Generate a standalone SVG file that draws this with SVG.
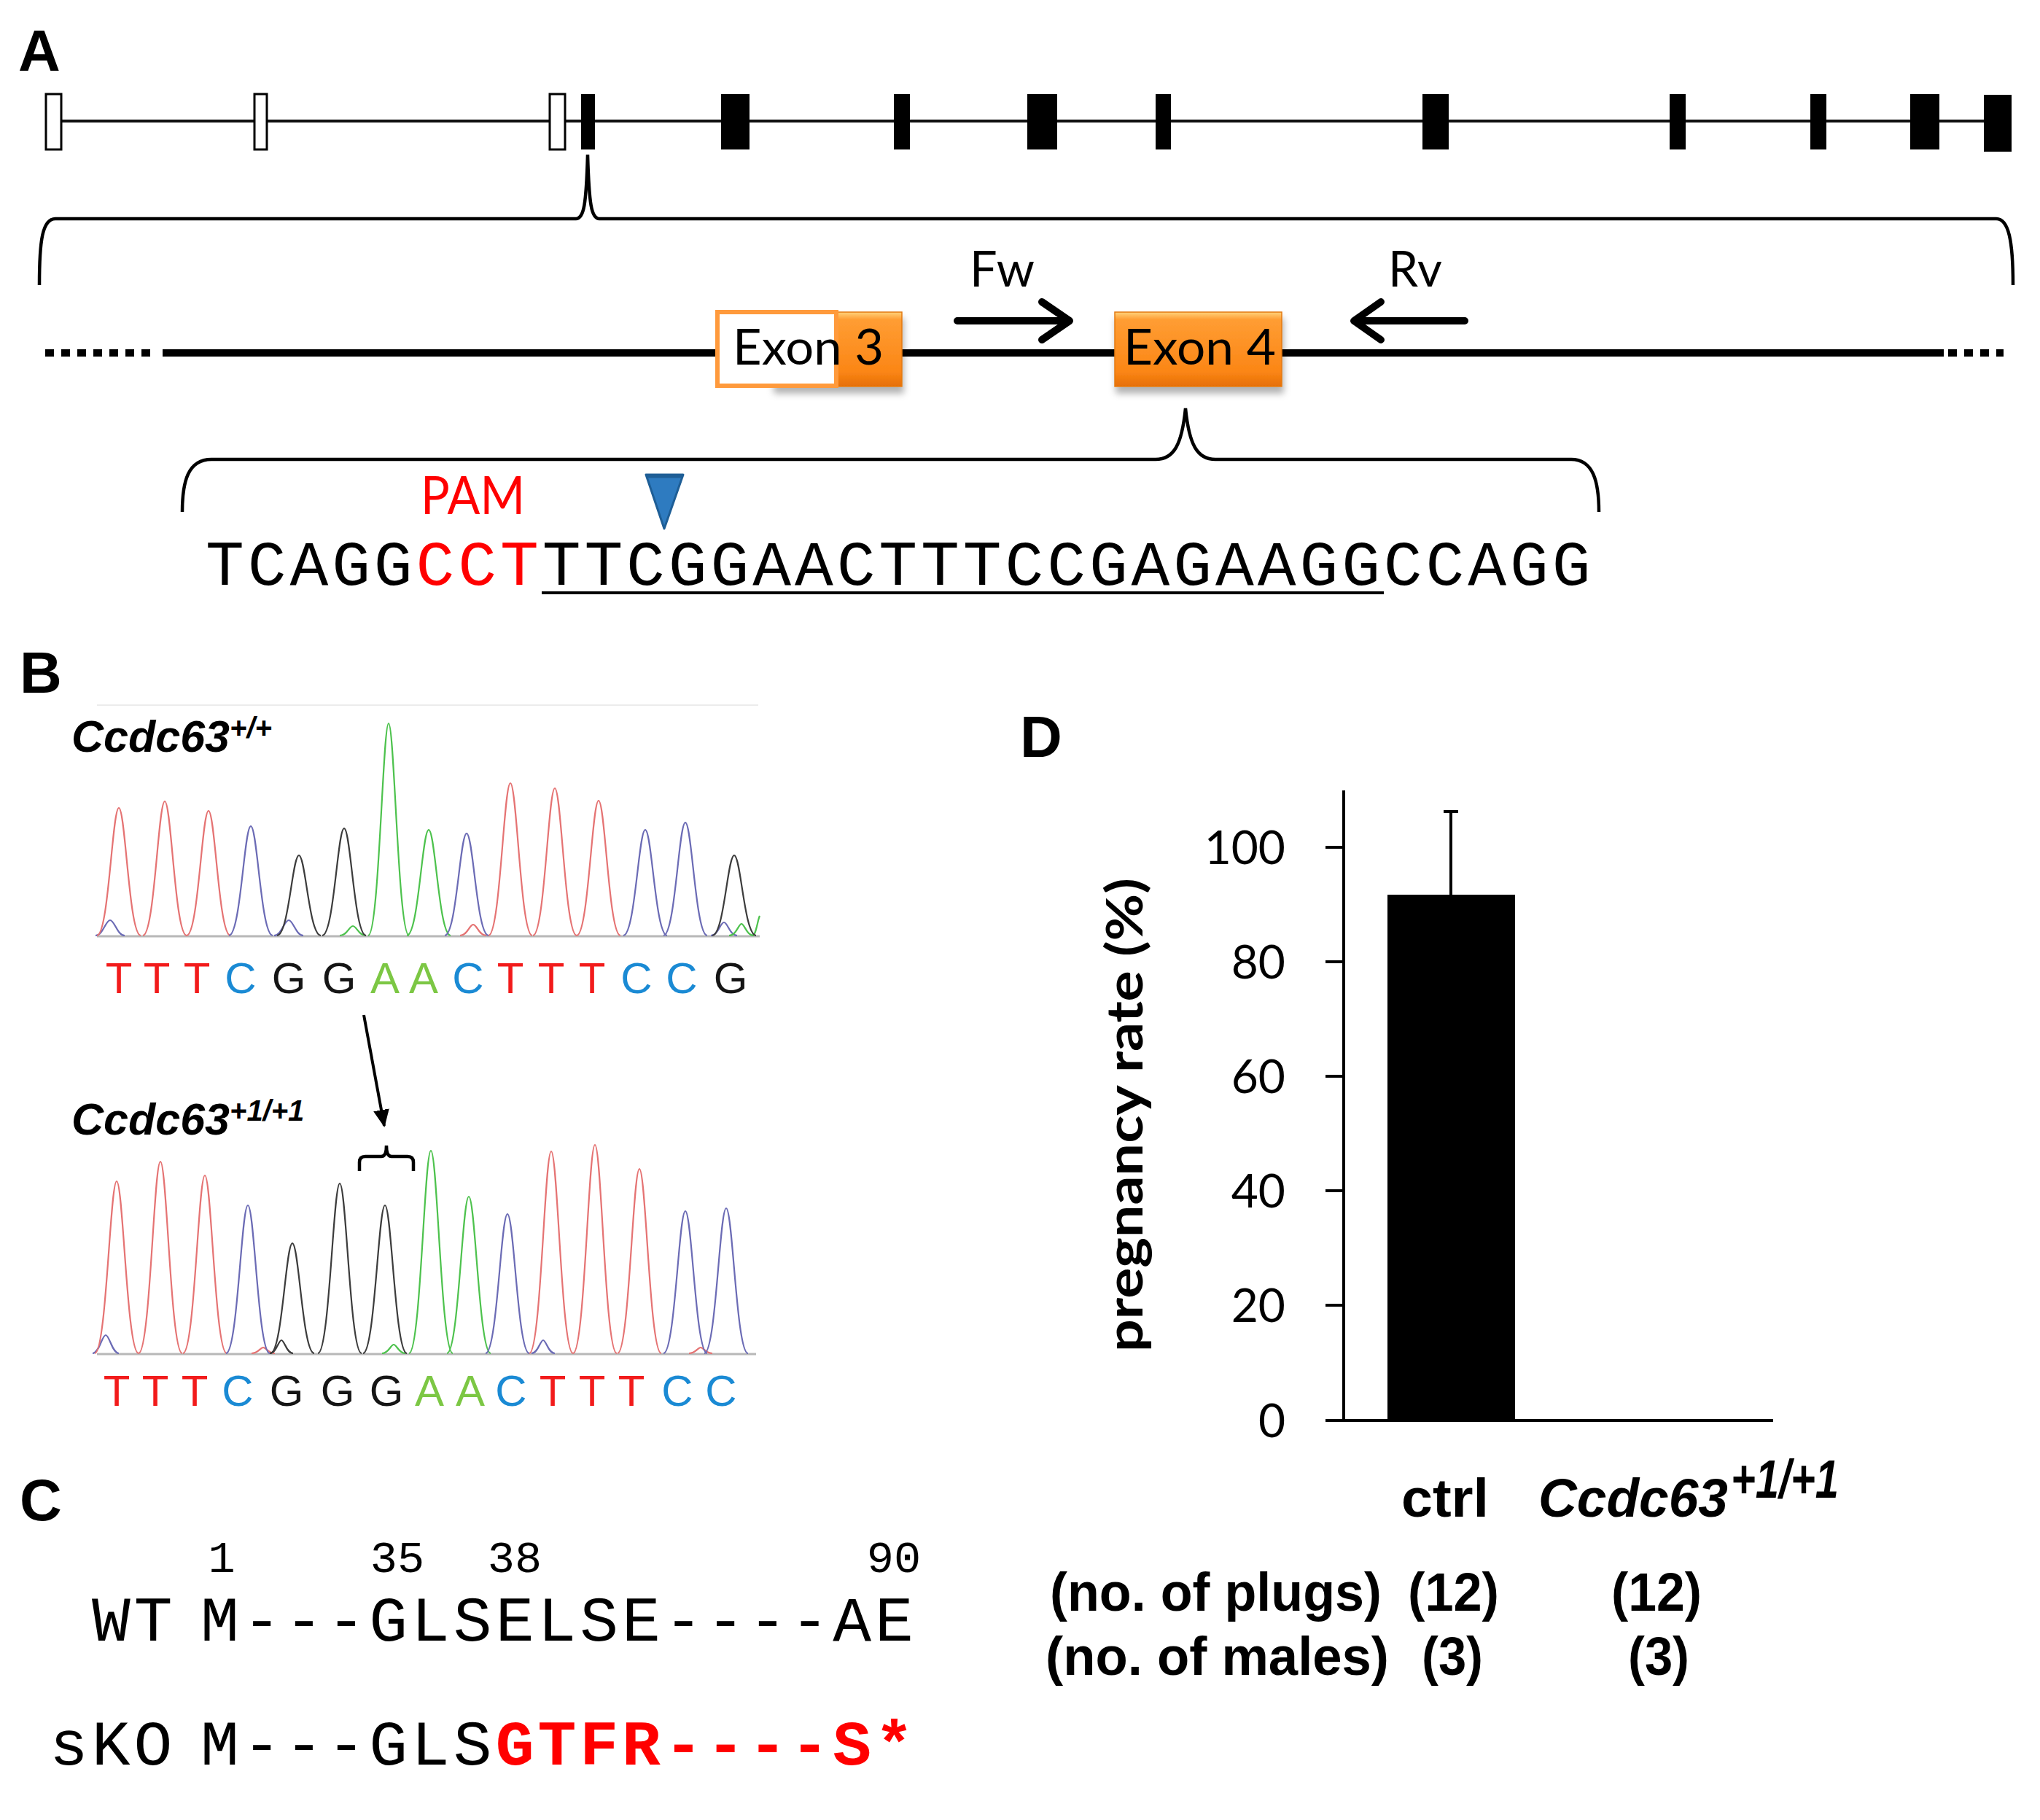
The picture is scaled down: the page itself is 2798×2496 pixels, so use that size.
<svg xmlns="http://www.w3.org/2000/svg" width="2798" height="2496" viewBox="0 0 2798 2496">
<defs>
<style>
.lbl{font-family:"Liberation Sans",Arial,sans-serif;font-weight:bold;font-size:80px;fill:#000}
.cal{font-family:Lato,"Liberation Sans",sans-serif;fill:#000}
.mono{font-family:"Liberation Mono","Courier New",monospace;fill:#000}
.tr{fill:none;stroke-width:2.2;stroke-linejoin:round}
.r{stroke:#E57373}.b{stroke:#6B6BB5}.k{stroke:#3C3C3C}.g{stroke:#4DC24D}
.base{font-family:"Liberation Sans",Arial,sans-serif;font-size:60px;text-anchor:middle}
.bT{fill:#F21B1B}.bC{fill:#1A8AD4}.bG{fill:#151515}.bA{fill:#7CC744}
.ax{stroke:#000;stroke-width:4;fill:none}
.brace{fill:none;stroke:#000;stroke-width:4.5}
.tick{font-family:Lato,"Liberation Sans",sans-serif;font-size:64px;text-anchor:end;fill:#000}
.dl{font-family:"Liberation Sans",Arial,sans-serif;font-weight:bold;font-size:74px;fill:#000}
.gx{fill:#000;stroke:#000;stroke-width:2}
.gu{fill:#fff;stroke:#000;stroke-width:3}
</style>
<linearGradient id="og" x1="0" y1="0" x2="0" y2="1">
<stop offset="0" stop-color="#FFD27A"/>
<stop offset="0.1" stop-color="#FF9D33"/>
<stop offset="0.8" stop-color="#FB8616"/>
<stop offset="1" stop-color="#E66F05"/>
</linearGradient>
<filter id="sh" x="-10%" y="-10%" width="130%" height="150%">
<feDropShadow dx="2" dy="9" stdDeviation="5" flood-color="#000" flood-opacity="0.3"/>
</filter>
<marker id="ah" viewBox="0 0 24 22" markerWidth="24" markerHeight="22" refX="22" refY="11" orient="auto" markerUnits="userSpaceOnUse">
<path d="M0 0 L24 11 L0 22 z" fill="#000"/>
</marker>
</defs>
<rect width="2798" height="2496" fill="#fff"/>

<g id="labels">
<text class="lbl" x="25" y="97">A</text>
<text class="lbl" x="27" y="950">B</text>
<text class="lbl" x="27" y="2085">C</text>
<text class="lbl" x="1399" y="1038">D</text>
</g>

<g id="gene">
<line x1="74" y1="166" x2="2740" y2="166" stroke="#111" stroke-width="4"/>
<rect class="gu" x="63" y="129" width="21" height="76"/>
<rect class="gu" x="349" y="129" width="17" height="76"/>
<rect class="gu" x="754" y="129" width="21" height="76"/>
<rect class="gx" x="798" y="130" width="17" height="74"/>
<rect class="gx" x="990" y="130" width="37" height="74"/>
<rect class="gx" x="1227" y="130" width="20" height="74"/>
<rect class="gx" x="1410" y="130" width="39" height="74"/>
<rect class="gx" x="1586" y="130" width="19" height="74"/>
<rect class="gx" x="1952" y="130" width="34" height="74"/>
<rect class="gx" x="2291" y="130" width="20" height="74"/>
<rect class="gx" x="2484" y="130" width="20" height="74"/>
<rect class="gx" x="2621" y="130" width="38" height="74"/>
<rect class="gx" x="2722" y="131" width="36" height="76"/>
</g>

<g id="connectors">
<path class="brace" d="M54 391 C54 330 58 300 76 300 L790 300 C801 300 804 280 806 212 C808 280 811 300 822 300 L2738 300 C2755 300 2761 330 2761 391"/>
<path class="brace" d="M250 702 C250 660 258 630 290 630 L1585 630 C1610 630 1621 610 1626 560 C1631 610 1642 630 1667 630 L2155 630 C2185 630 2193 660 2193 702"/>
<line x1="499" y1="1392" x2="527" y2="1544" stroke="#000" stroke-width="4" marker-end="url(#ah)"/>
<path class="brace" d="M493 1606 L493 1594 Q493 1586 501 1586 L523 1586 Q530 1586 530 1571 Q530 1586 537 1586 L559 1586 Q567 1586 567 1594 L567 1606"/>
</g>

<g id="locus">
<line x1="62" y1="484" x2="216" y2="484" stroke="#000" stroke-width="10" stroke-dasharray="12 10"/>
<line x1="223" y1="484" x2="2666" y2="484" stroke="#000" stroke-width="10"/>
<line x1="2672" y1="484" x2="2748" y2="484" stroke="#000" stroke-width="10" stroke-dasharray="12 10"/>
</g>

<g id="exon3">
<rect x="1060" y="428" width="177" height="102" fill="url(#og)" stroke="#E47A12" stroke-width="1.5" filter="url(#sh)"/>
<rect x="984" y="428" width="163" height="101" fill="#fff" stroke="#FF9A3C" stroke-width="6"/>
<text class="cal" x="1005" y="500" font-size="68" textLength="207" lengthAdjust="spacingAndGlyphs">Exon 3</text>
</g>

<g id="exon4">
<rect x="1529" y="428" width="229" height="102" fill="url(#og)" stroke="#E47A12" stroke-width="1.5" filter="url(#sh)"/>
<text class="cal" x="1541" y="500" font-size="68" textLength="209" lengthAdjust="spacingAndGlyphs">Exon 4</text>
</g>

<g id="fw">
<text class="cal" x="1330" y="393" font-size="68" textLength="89" lengthAdjust="spacingAndGlyphs">Fw</text>
<path d="M1313 440 L1464 440 M1429 414 L1467 440 L1429 466" fill="none" stroke="#000" stroke-width="10" stroke-linejoin="round" stroke-linecap="round"/>
</g>
<g id="rv">
<text class="cal" x="1904" y="393" font-size="68" textLength="74" lengthAdjust="spacingAndGlyphs">Rv</text>
<path d="M2009 440 L1860 440 M1894 414 L1857 440 L1894 466" fill="none" stroke="#000" stroke-width="10" stroke-linejoin="round" stroke-linecap="round"/>
</g>

<g id="pam">
<text class="cal" x="577" y="705" font-size="72" style="fill:#FF0000" textLength="143" lengthAdjust="spacingAndGlyphs">PAM</text>
</g>
<g id="cutsite">
<polygon points="886,651 937,651 911,725" fill="#2E7BC0" stroke="#1E5E96" stroke-width="3" stroke-linejoin="round"/>
<line x1="888" y1="653" x2="935" y2="653" stroke="#1E5E96" stroke-width="5"/>
</g>
<g id="sequence">
<text class="mono" x="282" y="802" font-size="88" letter-spacing="4.9">TCAGG<tspan fill="#FF0000">CCT</tspan>TTCGGAACTTTCCGAGAAGGCCAGG</text>
<line x1="743" y1="813" x2="1898" y2="813" stroke="#000" stroke-width="4"/>
</g>

<g id="wt-label">
<text x="98" y="1031" font-family="Liberation Sans, Arial, sans-serif" font-weight="bold" font-style="italic" font-size="61">Ccdc63<tspan font-size="40" dy="-19">+/+</tspan></text>
</g>
<g id="wt-trace">
<line x1="133" y1="967" x2="1040" y2="967" stroke="#ececec" stroke-width="2"/>
<line x1="133" y1="1284" x2="1042" y2="1284" stroke="#b8b8b8" stroke-width="3"/>
<path class="tr b" d="M131 1283 C141 1283 145 1262 151 1262 C157 1262 161 1283 171 1283"/>
<path class="tr b" d="M376 1283 C386 1283 390 1262 396 1262 C402 1262 406 1283 416 1283"/>
<path class="tr g" d="M466 1283 C476 1283 479 1270 484 1270 C489 1270 492 1283 502 1283"/>
<path class="tr r" d="M631 1283 C641 1283 644 1268 649 1268 C654 1268 657 1283 667 1283"/>
<path class="tr b" d="M975 1283 C985 1283 988 1265 993 1265 C998 1265 1001 1283 1011 1283"/>
<path class="tr g" d="M1000 1283 C1010 1283 1013 1267 1017 1267 C1021 1267 1024 1283 1034 1283"/>
<path class="tr g" d="M1032 1283 C1037 1283 1039 1262 1042 1256"/>
<path class="tr r" d="M133 1283 C149 1283 154 1108 163 1108 C172 1108 177 1283 193 1283"/>
<path class="tr r" d="M196 1283 C212 1283 217 1099 226 1099 C235 1099 240 1283 256 1283"/>
<path class="tr r" d="M256 1283 C272 1283 277 1112 286 1112 C295 1112 300 1283 316 1283"/>
<path class="tr b" d="M314 1283 C330 1283 335 1133 344 1133 C353 1133 358 1283 374 1283"/>
<path class="tr k" d="M380 1283 C396 1283 401 1173 410 1173 C419 1173 424 1283 440 1283"/>
<path class="tr k" d="M442 1283 C458 1283 463 1136 472 1136 C481 1136 486 1283 502 1283"/>
<path class="tr g" d="M505 1283 C520 1283 525 992 533 992 C541 992 546 1283 561 1283"/>
<path class="tr g" d="M558 1283 C574 1283 579 1138 588 1138 C597 1138 602 1283 618 1283"/>
<path class="tr b" d="M610 1283 C626 1283 631 1143 640 1143 C649 1143 654 1283 670 1283"/>
<path class="tr r" d="M670 1283 C686 1283 691 1074 700 1074 C709 1074 714 1283 730 1283"/>
<path class="tr r" d="M731 1283 C747 1283 752 1081 761 1081 C770 1081 775 1283 791 1283"/>
<path class="tr r" d="M791 1283 C807 1283 812 1098 821 1098 C830 1098 835 1283 851 1283"/>
<path class="tr b" d="M855 1283 C871 1283 876 1138 885 1138 C894 1138 899 1283 915 1283"/>
<path class="tr b" d="M910 1283 C926 1283 931 1128 940 1128 C949 1128 954 1283 970 1283"/>
<path class="tr k" d="M977 1283 C993 1283 998 1173 1007 1173 C1016 1173 1021 1283 1037 1283"/>
</g>
<g id="wt-bases" class="base">
<text class="bT" x="163" y="1362">T</text><text class="bT" x="215" y="1362">T</text><text class="bT" x="270" y="1362">T</text>
<text class="bC" x="330" y="1362">C</text><text class="bG" x="396" y="1362">G</text><text class="bG" x="465" y="1362">G</text>
<text class="bA" x="528" y="1362">A</text><text class="bA" x="581" y="1362">A</text><text class="bC" x="642" y="1362">C</text>
<text class="bT" x="700" y="1362">T</text><text class="bT" x="756" y="1362">T</text><text class="bT" x="812" y="1362">T</text>
<text class="bC" x="873" y="1362">C</text><text class="bC" x="935" y="1362">C</text><text class="bG" x="1002" y="1362">G</text>
</g>

<g id="ko-label">
<text x="98" y="1556" font-family="Liberation Sans, Arial, sans-serif" font-weight="bold" font-style="italic" font-size="61">Ccdc63<tspan font-size="40" dy="-19">+1/+1</tspan></text>
</g>
<g id="ko-trace">
<line x1="133" y1="1857" x2="1037" y2="1857" stroke="#b8b8b8" stroke-width="3"/>
<path class="tr b" d="M127 1856 C136 1856 140 1831 145 1831 C150 1831 154 1856 163 1856"/>
<path class="tr r" d="M345 1856 C354 1856 357 1848 361 1848 C365 1848 368 1856 377 1856"/>
<path class="tr k" d="M370 1856 C379 1856 382 1838 386 1838 C390 1838 393 1856 402 1856"/>
<path class="tr g" d="M524 1856 C533 1856 536 1844 540 1844 C544 1844 547 1856 556 1856"/>
<path class="tr b" d="M729 1856 C738 1856 741 1838 745 1838 C749 1838 752 1856 761 1856"/>
<path class="tr r" d="M945 1856 C954 1856 957 1848 961 1848 C965 1848 968 1856 977 1856"/>
<path class="tr r" d="M130 1856 C146 1856 151 1620 160 1620 C169 1620 174 1856 190 1856"/>
<path class="tr r" d="M190 1856 C206 1856 211 1593 220 1593 C229 1593 234 1856 250 1856"/>
<path class="tr r" d="M251 1856 C267 1856 272 1612 281 1612 C290 1612 295 1856 311 1856"/>
<path class="tr b" d="M310 1856 C326 1856 331 1653 340 1653 C349 1653 354 1856 370 1856"/>
<path class="tr k" d="M371 1856 C387 1856 392 1705 401 1705 C410 1705 415 1856 431 1856"/>
<path class="tr k" d="M436 1856 C452 1856 457 1623 466 1623 C475 1623 480 1856 496 1856"/>
<path class="tr k" d="M498 1856 C514 1856 519 1653 528 1653 C537 1653 542 1856 558 1856"/>
<path class="tr g" d="M561 1856 C577 1856 582 1578 591 1578 C600 1578 605 1856 621 1856"/>
<path class="tr g" d="M613 1856 C629 1856 634 1641 643 1641 C652 1641 657 1856 673 1856"/>
<path class="tr b" d="M666 1856 C682 1856 687 1665 696 1665 C705 1665 710 1856 726 1856"/>
<path class="tr r" d="M726 1856 C742 1856 747 1579 756 1579 C765 1579 770 1856 786 1856"/>
<path class="tr r" d="M786 1856 C802 1856 807 1570 816 1570 C825 1570 830 1856 846 1856"/>
<path class="tr r" d="M847 1856 C863 1856 868 1603 877 1603 C886 1603 891 1856 907 1856"/>
<path class="tr b" d="M910 1856 C926 1856 931 1661 940 1661 C949 1661 954 1856 970 1856"/>
<path class="tr b" d="M966 1856 C982 1856 987 1657 996 1657 C1005 1657 1010 1856 1026 1856"/>
</g>
<g id="ko-bases" class="base">
<text class="bT" x="160" y="1928">T</text><text class="bT" x="213" y="1928">T</text><text class="bT" x="267" y="1928">T</text>
<text class="bC" x="326" y="1928">C</text><text class="bG" x="393" y="1928">G</text><text class="bG" x="463" y="1928">G</text>
<text class="bG" x="530" y="1928">G</text><text class="bA" x="589" y="1928">A</text><text class="bA" x="645" y="1928">A</text>
<text class="bC" x="701" y="1928">C</text><text class="bT" x="758" y="1928">T</text><text class="bT" x="812" y="1928">T</text>
<text class="bT" x="866" y="1928">T</text><text class="bC" x="929" y="1928">C</text><text class="bC" x="989" y="1928">C</text>
</g>

<g id="positions" class="mono" font-size="62" text-anchor="middle">
<text x="304" y="2156">1</text>
<text x="545" y="2156">35</text>
<text x="706" y="2156">38</text>
<text x="1226" y="2156">90</text>
</g>
<g id="wt-protein">
<text class="mono" x="126" y="2250" font-size="88" letter-spacing="5">WT</text>
<text class="mono" x="275" y="2250" font-size="88" letter-spacing="5">M---GLSELSE----AE</text>
</g>
<g id="sko-protein">
<text class="mono" x="68" y="2420" font-size="88" letter-spacing="5">sKO</text>
<text class="mono" x="275" y="2420" font-size="88" letter-spacing="5">M---GLS<tspan fill="#FF0000" font-weight="bold">GTFR----S*</tspan></text>
</g>

<g id="axes">
<path class="ax" d="M1843 1084 L1843 1948 M1818 1948 L2432 1948 M1818 1162 L1843 1162 M1818 1319 L1843 1319 M1818 1476 L1843 1476 M1818 1633 L1843 1633 M1818 1790 L1843 1790"/>
<text class="tick" x="1763" y="1185">100</text>
<text class="tick" x="1763" y="1342">80</text>
<text class="tick" x="1763" y="1499">60</text>
<text class="tick" x="1763" y="1656">40</text>
<text class="tick" x="1763" y="1813">20</text>
<text class="tick" x="1763" y="1971">0</text>
<text class="cal" transform="translate(1567,1529) rotate(-90)" text-anchor="middle" font-size="68" font-weight="bold" textLength="650" lengthAdjust="spacingAndGlyphs">pregnancy rate (%)</text>
</g>
<g id="bar-ctrl">
<rect x="1903" y="1227" width="175" height="721" fill="#000"/>
<path d="M1990 1227 L1990 1113 M1980 1113 L2000 1113" stroke="#000" stroke-width="4" fill="none"/>
</g>
<g id="xlabels">
<text class="dl" x="1922" y="2080" textLength="120" lengthAdjust="spacingAndGlyphs">ctrl</text>
<text class="dl" x="2110" y="2080" font-style="italic" textLength="260" lengthAdjust="spacingAndGlyphs">Ccdc63</text>
<text class="dl" x="2374" y="2054" font-style="italic" font-size="46" textLength="148" lengthAdjust="spacingAndGlyphs">+1/+1</text>
<text class="dl" x="1440" y="2209" textLength="455" lengthAdjust="spacingAndGlyphs">(no. of plugs)</text>
<text class="dl" x="1931" y="2209" textLength="125" lengthAdjust="spacingAndGlyphs">(12)</text>
<text class="dl" x="2210" y="2209" textLength="124" lengthAdjust="spacingAndGlyphs">(12)</text>
<text class="dl" x="1434" y="2297" textLength="471" lengthAdjust="spacingAndGlyphs">(no. of males)</text>
<text class="dl" x="1950" y="2297" textLength="84" lengthAdjust="spacingAndGlyphs">(3)</text>
<text class="dl" x="2233" y="2297" textLength="84" lengthAdjust="spacingAndGlyphs">(3)</text>
</g>
</svg>
